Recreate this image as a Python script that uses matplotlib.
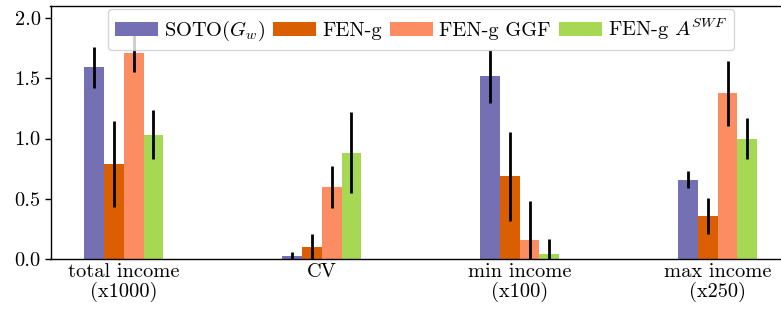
import numpy as np
import matplotlib
matplotlib.use("Agg")
import matplotlib.pyplot as plt

plt.rcParams['font.family'] = ['cmr10', 'DejaVu Serif']
plt.rcParams['mathtext.fontset'] = 'cm'
plt.rcParams['axes.formatter.use_mathtext'] = True

categories = ["total income\n(x1000)", "CV", "min income\n(x100)", "max income\n(x250)"]
series_names = [r"SOTO$(G_w)$", "FEN-g", "FEN-g GGF", r"FEN-g $A^{SWF}$"]
colors = ["#7570b3", "#d95f02", "#fc8d62", "#a6d854"]

soto_vals = [1.59, 0.025, 1.517, 0.658]
soto_err = [0.17, 0.03, 0.22, 0.07]
feng_vals = [0.79, 0.10, 0.686, 0.358]
feng_err = [0.355, 0.11, 0.37, 0.15]
ggf_vals = [1.71, 0.60, 0.158, 1.375]
ggf_err = [0.155, 0.175, 0.32, 0.27]
swf_vals = [1.033, 0.883, 0.042, 1.0]
swf_err = [0.205, 0.335, 0.12, 0.17]

values = [soto_vals, feng_vals, ggf_vals, swf_vals]
errors = [soto_err, feng_err, ggf_err, swf_err]

FS = 14.7

fig = plt.figure(figsize=(7.81, 3.09), dpi=100)
ax = fig.add_axes([50.5/781, 1 - 259/309, (781 - 50.5)/781, (259 - 6)/309])

x = np.arange(len(categories))
w = 0.1
for i, (vals, errs, c, name) in enumerate(zip(values, errors, colors, series_names)):
    ax.bar(x + (i - 1.5) * w, vals, w, yerr=errs, color=c, label=name,
           error_kw=dict(ecolor='black', elinewidth=2, capsize=0))

ax.set_xlim(-0.37, 3.32)
ax.set_ylim(0, 2.1)
ax.set_xticks(x)
ax.set_xticklabels(categories, fontsize=FS, linespacing=1.05)
ax.tick_params(axis='x', length=0, pad=3)
ax.set_yticks([0, 0.5, 1.0, 1.5, 2.0])
ax.set_yticklabels(["0.0", "0.5", "1.0", "1.5", "2.0"], fontsize=FS)
ax.tick_params(axis='y', length=4, width=1, pad=3)
ax.spines['right'].set_visible(False)
for s in ['left', 'top', 'bottom']:
    ax.spines[s].set_linewidth(1.0)

ax.legend(loc='upper center', ncol=4, fontsize=FS, handlelength=2.1,
          handletextpad=0.3, columnspacing=0.4, borderaxespad=0.15,
          borderpad=0.35, bbox_to_anchor=(0.507, 1.0), framealpha=0.8, fancybox=True)

fig.savefig("out.png", dpi=100)
